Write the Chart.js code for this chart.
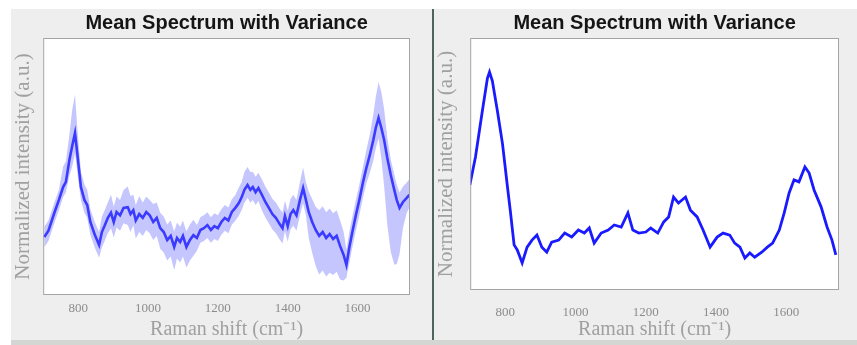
<!DOCTYPE html>
<html>
<head>
<meta charset="utf-8">
<script src="https://cdn.jsdelivr.net/npm/chart.js@4.4.0/dist/chart.umd.min.js"></script>
<style>
  html, body { margin: 0; padding: 0; background: #ffffff; }
  body { width: 857px; height: 345px; position: relative; overflow: hidden; }
  .panel { position: absolute; top: 9px; height: 331px; background: #eeeeee; }
  #leftPanel { left: 11px; width: 422px; }
  #rightPanel { left: 434px; width: 423px; }
  #divider { position: absolute; left: 432px; top: 9px; width: 2px; height: 336px; background: #50655a; }
  #bottomStrip { position: absolute; left: 11px; top: 340px; width: 846px; height: 5px; background: #d4d6d4; }
</style>
</head>
<body>
<div class="panel" id="leftPanel"><canvas id="leftChart" width="422" height="331"></canvas></div>
<div class="panel" id="rightPanel"><canvas id="rightChart" width="423" height="331"></canvas></div>
<div id="divider"></div>
<div id="bottomStrip"></div>
<script>
// tick labels shared by both panels
const xTicks = [800, 1000, 1200, 1400, 1600];

// left panel: mean spectrum + variance band (spread above / below mean)
const leftShift = [703, 715, 732, 745, 757, 765, 775, 783, 791, 798, 808, 818, 826, 835, 848, 860, 868, 876, 885, 894,
  902, 910, 920, 930, 942, 950, 958, 965, 975, 985, 995, 1005, 1015, 1025, 1035, 1045, 1055, 1065, 1075, 1083,
  1092, 1100, 1110, 1120, 1130, 1140, 1150, 1160, 1170, 1180, 1190, 1200, 1210, 1220, 1230, 1240, 1250, 1260, 1268, 1276,
  1285, 1293, 1300, 1308, 1316, 1326, 1336, 1346, 1356, 1366, 1377, 1385, 1392, 1400, 1408, 1416, 1425, 1435, 1444, 1452,
  1460, 1470, 1480, 1490, 1500, 1510, 1520, 1530, 1540, 1550, 1560, 1568, 1576, 1585, 1595, 1605, 1615, 1625, 1635, 1645,
  1652, 1660, 1668, 1676, 1685, 1695, 1705, 1712, 1720, 1730, 1740, 1748];
const leftMean = [22.6, 25, 32, 37, 42, 44, 52.5, 58, 63, 54.5, 42, 37, 35, 28.4, 23.3, 19.5, 24.5, 27, 30, 32,
  28.4, 32.3, 31, 33.9, 34.2, 31.5, 33, 29, 31.5, 30, 32.3, 31, 28.4, 30, 26, 24.5, 21.4, 23, 18.7, 22.2,
  20.6, 23, 18.7, 21.4, 23.3, 22.2, 25.3, 26, 27.2, 25.3, 26.8, 26, 28.4, 30, 29, 32.3, 33.9, 35.8, 38, 40.9,
  42.8, 40.9, 42, 40, 41.6, 39, 36.2, 33.9, 31.5, 30, 27.6, 26, 30.7, 26.8, 31.5, 33, 31, 37, 41.6, 37,
  32.3, 28.4, 25.3, 23, 24.5, 22.2, 23.7, 21.8, 23, 19, 15.6, 11.7, 18.3, 24.5, 31, 37, 43.6, 49.4, 54.5, 60.3,
  65, 68.9, 65, 60.3, 53.3, 46.7, 40.9, 37, 33.9, 36.2, 37.7, 39];
const leftUp = [4, 4, 4, 4, 8, 8, 10, 14, 15, 10, 6, 6, 6, 5, 5, 5, 6, 6, 6, 7,
  6, 6, 6, 7, 8, 7, 6, 6, 7, 6, 6, 6, 7, 6, 6, 6, 6, 6, 6, 6,
  6, 6, 6, 6, 6, 5, 5, 5, 5, 5, 5, 5, 5, 5, 5, 5, 5, 6, 6, 7,
  7, 7, 6, 6, 6, 6, 6, 6, 6, 6, 6, 6, 6, 6, 6, 6, 6, 7, 8, 7,
  8, 9, 9, 10, 10, 10, 10, 10, 10, 10, 9, 6, 6, 6, 6, 6, 6, 7, 8, 10,
  12, 14, 14, 12, 8, 6, 6, 6, 6, 6, 6, 6];
const leftDown = [4, 4, 4, 4, 4, 4, 6, 8, 8, 7, 5, 5, 5, 5, 5, 5, 6, 6, 6, 6,
  6, 6, 6, 6, 7, 7, 6, 7, 7, 7, 7, 7, 7, 7, 8, 8, 8, 8, 9, 8,
  8, 8, 8, 8, 8, 5, 5, 5, 5, 5, 5, 5, 5, 5, 5, 5, 5, 5, 5, 5,
  5, 5, 5, 5, 5, 6, 6, 6, 6, 6, 6, 6, 6, 6, 6, 6, 6, 6, 6, 6,
  10, 12, 14, 15, 15, 15, 15, 14, 14, 13, 10, 5, 6, 6, 6, 6, 6, 6, 7, 8,
  8, 8, 12, 18, 26, 30, 29, 25, 18, 10, 6, 5];

// right panel: mean spectrum
const rightShift = [699, 715, 735, 749, 755, 763, 777, 792, 806, 814, 825, 834, 848, 862, 876, 890, 904, 918, 932, 952,
  969, 989, 1008, 1025, 1039, 1053, 1073, 1093, 1110, 1130, 1149, 1163, 1180, 1200, 1214, 1234, 1251, 1265, 1279, 1293,
  1313, 1327, 1346, 1363, 1383, 1403, 1420, 1439, 1453, 1468, 1482, 1496, 1510, 1530, 1546, 1561, 1580, 1594, 1608, 1622,
  1636, 1653, 1665, 1679, 1699, 1716, 1730, 1741];
const rightMean = [41.7, 52.8, 71.4, 84, 86.5, 83, 71.4, 58, 41, 31.7, 17.9, 15.9, 10.7, 17, 19.8, 21.8, 17, 15, 19, 19.8,
  22.6, 21, 23.8, 22.6, 24.6, 18.6, 22.6, 23.8, 25.8, 25, 30.6, 23.8, 22.6, 23, 24.6, 22.6, 27, 29, 36.9, 34.5,
  36.9, 31.7, 29, 23.8, 17, 21, 22.6, 21.8, 18.6, 17, 12.7, 14.7, 13, 15, 17, 18.6, 23.8, 30.6, 38.5, 43.7,
  42.9, 48.8, 46.4, 39.7, 33, 25, 19.8, 13.9];

const toPoints = (xs, ys) => xs.map((x, i) => ({ x: x, y: ys[i] }));

const boxPlugin = {
  id: 'box',
  beforeDraw(chart) {
    const { ctx, chartArea: a } = chart;
    ctx.save();
    ctx.fillStyle = '#ffffff';
    ctx.fillRect(a.left, a.top, a.right - a.left, a.bottom - a.top);
    ctx.restore();
  },
  afterDraw(chart) {
    const { ctx, chartArea: a } = chart;
    ctx.save();
    ctx.strokeStyle = '#a4a4a4';
    ctx.lineWidth = 1;
    ctx.strokeRect(a.left + 0.5, a.top + 0.5, a.right - a.left - 1, a.bottom - a.top - 1);
    ctx.restore();
  }
};

// ticks.padding is counted twice in the axis height, so the x title top padding absorbs the rest
const makeChart = (id, datasets, pad, tickPad, xTitleTop, yTitlePad) => {
  return new Chart(document.getElementById(id), {
    type: 'line',
    data: { datasets: datasets },
    plugins: [boxPlugin],
    options: {
      responsive: false,
      animation: false,
      events: [],
      layout: { padding: pad },
      plugins: {
        legend: { display: false },
        tooltip: { enabled: false },
        title: {
          display: true,
          fullSize: false,
          text: 'Mean Spectrum with Variance',
          color: '#151515',
          font: { family: 'Liberation Sans', size: 20, weight: 'bold' },
          padding: { top: 2, bottom: 3 }
        }
      },
      scales: {
        x: {
          type: 'linear',
          min: 700,
          max: 1750,
          grid: { display: false, drawTicks: false },
          border: { display: false },
          afterBuildTicks: s => { s.ticks = xTicks.map(v => ({ value: v })); },
          ticks: {
            color: '#8c8c8c',
            padding: tickPad,
            font: { family: 'Liberation Serif', size: 13, lineHeight: 1 },
            callback: v => String(v)
          },
          title: {
            display: true,
            text: 'Raman shift (cm⁻¹)',
            color: '#a0a0a0',
            font: { family: 'Liberation Serif', size: 20, lineHeight: 1 },
            padding: { top: xTitleTop, bottom: 0 }
          }
        },
        y: {
          min: 0,
          max: 100,
          grid: { display: false, drawTicks: false },
          border: { display: false },
          ticks: { display: false },
          title: {
            display: true,
            text: 'Normalized intensity (a.u.)',
            color: '#a0a0a0',
            font: { family: 'Liberation Serif', size: 21 },
            padding: { top: 0, bottom: yTitlePad }
          }
        }
      }
    }
  });
};

const leftLower = leftMean.map((v, i) => v - leftDown[i]);
const leftUpper = leftMean.map((v, i) => v + leftUp[i]);

makeChart('leftChart', [
  {
    data: toPoints(leftShift, leftLower),
    borderWidth: 0,
    pointRadius: 0,
    fill: false
  },
  {
    data: toPoints(leftShift, leftUpper),
    borderWidth: 0,
    pointRadius: 0,
    backgroundColor: 'rgba(120, 120, 255, 0.42)',
    fill: '-1'
  },
  {
    data: toPoints(leftShift, leftMean),
    borderColor: '#1010ff',
    borderWidth: 2.6,
    pointRadius: 0,
    fill: false
  }
], { top: 0, left: 0, right: 23, bottom: 0 }, 7, -2, 7);

makeChart('rightChart', [
  {
    data: toPoints(rightShift, rightMean),
    borderColor: '#1a1aff',
    borderWidth: 2.8,
    pointRadius: 0,
    fill: false
  }
], { top: 0, left: 0, right: 18, bottom: 0 }, 16, -15, 11);
</script>
</body>
</html>
